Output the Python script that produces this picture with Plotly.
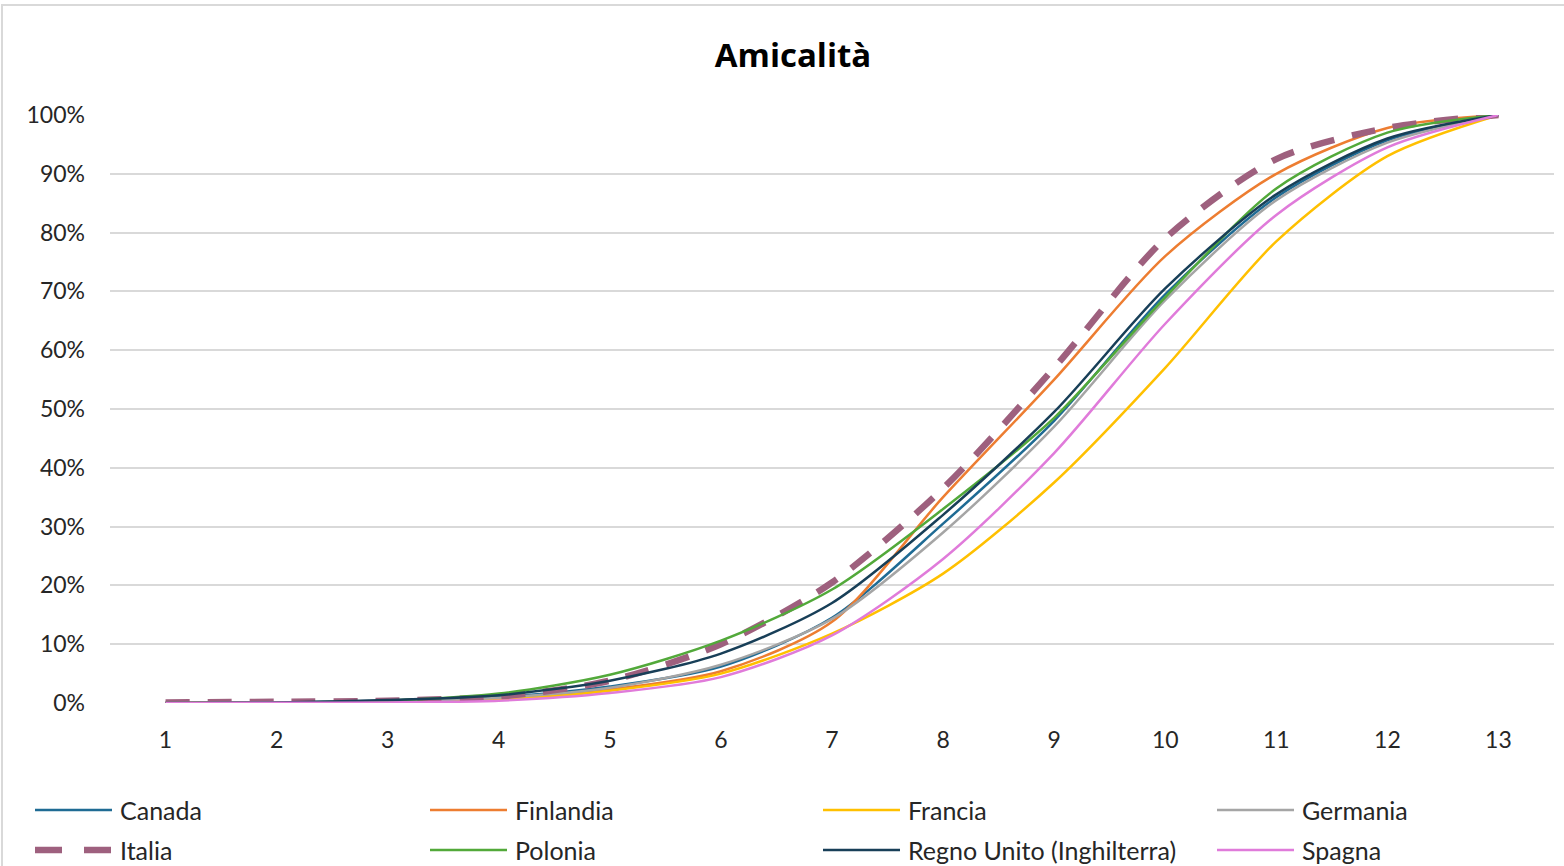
import plotly.graph_objects as go

x_values = [1, 2, 3, 4, 5, 6, 7, 8, 9, 10, 11, 12, 13]

canada = [0.0, 0.1, 0.4, 1.0, 2.8, 6.2, 14.5, 30.5, 48.0, 69.5, 86.0, 95.7, 100]
finlandia = [0.0, 0.05, 0.2, 0.7, 2.3, 5.4, 13.8, 35.0, 55.0, 76.0, 90.0, 97.8, 100]
francia = [0.0, 0.05, 0.2, 0.6, 2.1, 5.0, 11.8, 22.0, 37.5, 57.0, 78.5, 93.0, 100]
germania = [0.0, 0.1, 0.3, 0.9, 2.6, 6.5, 14.3, 29.0, 47.0, 68.5, 85.5, 95.3, 100]
italia = [0.1, 0.2, 0.4, 1.1, 3.8, 10.0, 20.5, 36.5, 57.0, 79.0, 92.5, 97.8, 100]
polonia = [0.0, 0.1, 0.4, 1.6, 4.8, 10.6, 19.3, 33.0, 48.5, 69.0, 87.5, 97.0, 100]
regno_unito = [0.0, 0.1, 0.5, 1.3, 3.8, 8.4, 17.0, 32.0, 49.5, 70.5, 86.5, 96.0, 100]
spagna = [0.0, 0.03, 0.1, 0.4, 1.7, 4.4, 11.5, 24.5, 42.5, 64.5, 83.0, 94.5, 100]

series_names = ["Canada", "Finlandia", "Francia", "Germania", "Italia",
                "Polonia", "Regno Unito (Inghilterra)", "Spagna"]
series_values = [canada, finlandia, francia, germania, italia, polonia, regno_unito, spagna]
series_colors = ["#1F6B94", "#ED7D31", "#FFC000", "#A5A5A5", "#9E607E",
                 "#52A93A", "#183F58", "#E07BDA"]

y_tick_vals = [0, 0.1, 0.2, 0.3, 0.4, 0.5, 0.6, 0.7, 0.8, 0.9, 1.0]
y_tick_text = ["0%", "10%", "20%", "30%", "40%", "50%", "60%", "70%", "80%", "90%", "100%"]

FONT = "Lato, 'Open Sans', sans-serif"
W, H = 1564, 866
ML, MR, MT, MB = 110, 10, 115, 163
PW = W - ML - MR
PH = H - MT - MB


def px_x(px):
    return (px - ML) / PW


def px_y(py):
    return (H - MB - py) / PH


fig = go.Figure()
for name, vals, color in zip(series_names, series_values, series_colors):
    is_dash = name == "Italia"
    fig.add_trace(go.Scatter(
        x=x_values,
        y=[v / 100 for v in vals],
        mode="lines",
        name=name,
        line=dict(color=color, width=6.5 if is_dash else 2.5,
                  dash="24px,18px" if is_dash else "solid",
                  shape="spline", smoothing=0.8),
        showlegend=False,
    ))

# custom legend (4 columns, 2 rows)
col_x = [35, 430, 823, 1217]
row_y = [810, 850]
shapes = []
annotations = []
for i, (name, color) in enumerate(zip(series_names, series_colors)):
    cx = col_x[i % 4]
    ry = row_y[i // 4]
    is_dash = name == "Italia"
    shapes.append(dict(
        type="line", xref="paper", yref="paper",
        x0=px_x(cx), x1=px_x(cx + 77), y0=px_y(ry), y1=px_y(ry),
        line=dict(color=color, width=6.5 if is_dash else 2.5,
                  dash="27px,22px" if is_dash else "solid"),
    ))
    annotations.append(dict(
        text=name, xref="paper", yref="paper",
        x=px_x(cx + 83), y=px_y(ry), xanchor="left", yanchor="middle",
        showarrow=False, font=dict(family=FONT, size=25, color="#262626"),
    ))

# chart border
shapes.append(dict(
    type="rect", xref="paper", yref="paper",
    x0=px_x(2), x1=px_x(W + 20), y0=px_y(H + 20), y1=px_y(5),
    line=dict(color="#D9D9D9", width=2), fillcolor="rgba(0,0,0,0)", layer="below",
))

fig.update_layout(
    width=W, height=H,
    margin=dict(l=ML, r=MR, t=MT, b=MB),
    paper_bgcolor="white", plot_bgcolor="white",
    title=dict(text="<b>Amicalità</b>", xref="paper", x=px_x(793), xanchor="center",
               yref="container", y=1 - 55 / H, yanchor="middle",
               font=dict(family="'Open Sans', sans-serif", size=33, color="#000000")),
    shapes=shapes,
    annotations=annotations,
    showlegend=False,
)
fig.update_xaxes(
    range=[0.5, 13.5], tickmode="array", tickvals=x_values,
    ticktext=[str(v) for v in x_values],
    showgrid=False, zeroline=False, showline=False, ticks="",
    ticklabelstandoff=21,
    tickfont=dict(family=FONT, size=23, color="#262626"),
)
fig.update_yaxes(
    range=[0, 1], tickmode="array", tickvals=y_tick_vals, ticktext=y_tick_text,
    showgrid=True, gridcolor="#D9D9D9", gridwidth=2, zeroline=False,
    showline=False, ticks="", ticklabelstandoff=24,
    tickfont=dict(family=FONT, size=23, color="#262626"),
)

fig.write_html("out.html", config={"displayModeBar": False},
               post_script="document.body.style.margin='0';document.body.style.overflow='hidden';")
